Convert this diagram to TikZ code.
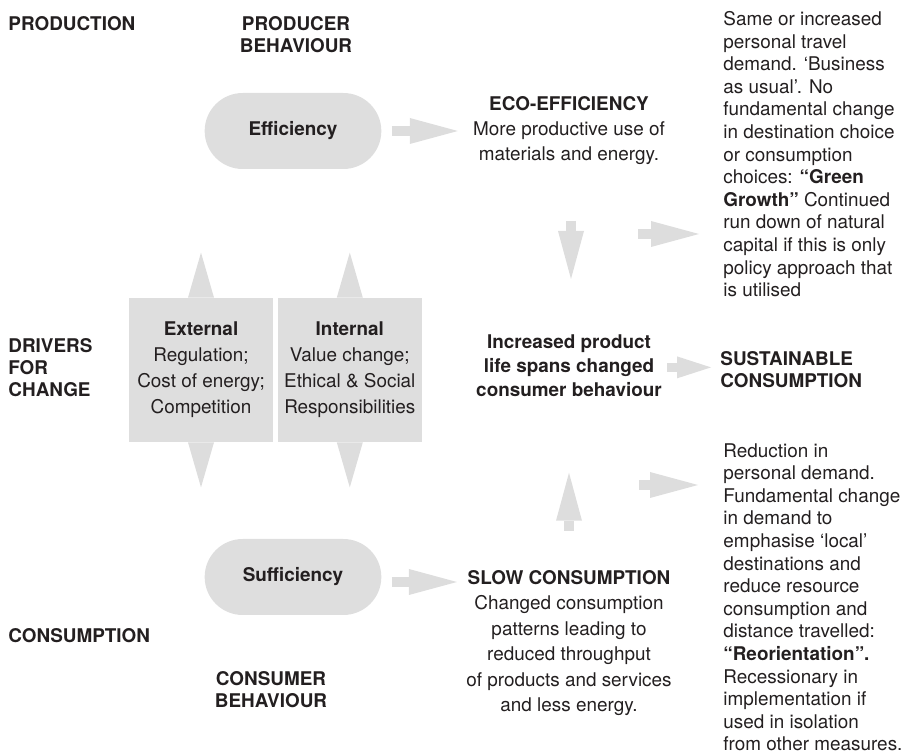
\documentclass[tikz,border=0pt]{standalone}
\usepackage{fontspec}
\setmainfont{TeX Gyre Heros}
\usetikzlibrary{arrows.meta,positioning,calc,shapes.misc}
\definecolor{Ink}{HTML}{231F20}
\definecolor{Shade}{HTML}{DEDEDE}
\definecolor{Pale}{HTML}{DDDDDD}
\newcommand{\txt}[1]{\fontsize{9.45pt}{#1}\selectfont}
\tikzset{
  tag/.style={text=Ink, inner sep=0pt, align=left, font=\txt{11pt}\bfseries},
  note/.style={text=Ink, inner sep=0pt, align=left, font=\txt{11.3pt}},
  stage/.style={text=Ink, inner sep=0pt, align=center, font=\txt{#1}},
  stage/.default=12.5pt,
  pill/.style={rounded rectangle, fill=Shade, text=Ink, font=\txt{12pt}\bfseries, minimum width=95pt, minimum height=38pt},
  driver/.style={fill=Shade, text=Ink, align=center, inner sep=0pt, minimum width=72pt, minimum height=72pt, font=\txt{13pt}},
  flow/.style={-{Triangle[length=24pt, width=13pt, line width=0pt]}, line width=5.25pt, draw=Pale},
  shortflow/.style={-{Triangle[length=17pt, width=11pt, line width=0pt]}, line width=4.5pt, draw=Pale},
  spike/.style={-{Triangle[length=22.5pt, width=13pt, line width=0pt]}, line width=5pt, draw=Pale}
}
\begin{document}
\begin{tikzpicture}[x=0.5pt, y=-0.5pt, node distance=2pt]
  \useasboundingbox (0,0) rectangle (901,753);
  % production side
  \node[tag, anchor=north west] (prod) at (8,16) {PRODUCTION};
  \node[tag, align=center, anchor=north] (prodbeh) at (296,16) {PRODUCER\\BEHAVIOUR};
  \node[pill] (eff) at (293,131) {Efficiency};
  \node[stage, anchor=north] (eco) at (569,96) {\textbf{ECO-EFFICIENCY}\\More productive use of\\materials and energy.};
  \node[note, anchor=north west] (green) at (723,11) {Same or increased\\personal travel\\demand. ‘Business\\as usual’. No\\fundamental change\\in destination choice\\or consumption\\choices: \textbf{“Green}\\\textbf{Growth”} Continued\\run down of natural\\capital if this is only\\policy approach that\\is utilised};
  % drivers
  \node[tag, anchor=north west] (drivers) at (8,338) {DRIVERS\\FOR\\CHANGE};
  \node[driver] (ext) at (201,370) {\textbf{External}\\Regulation;\\Cost of energy;\\Competition};
  \node[driver, right=of ext] (int) {\textbf{Internal}\\Value change;\\Ethical \& Social\\Responsibilities};
  \node[stage, font=\txt{12pt}\bfseries, anchor=north] (incr) at (569,334) {Increased product\\life spans changed\\consumer behaviour};
  \node[tag, anchor=north west] (sust) at (720,351) {SUSTAINABLE\\CONSUMPTION};
  \node[note, anchor=north west] (reor) at (723,443) {Reduction in\\personal demand.\\Fundamental change\\in demand to\\emphasise ‘local’\\destinations and\\reduce resource\\consumption and\\distance travelled:\\\textbf{“Reorientation”.}\\Recessionary in\\implementation if\\used in isolation\\from other measures.};
  % consumption side
  \node[pill] (suff) at (293,577) {Sufficiency};
  \node[stage=12.75pt, anchor=north] (slow) at (569,570) {\textbf{SLOW CONSUMPTION}\\Changed consumption\\patterns leading to\\reduced throughput\\of products and services\\and less energy.};
  \node[tag, anchor=north west] (cons) at (8,628) {CONSUMPTION};
  \node[tag, align=center, anchor=north] (consbeh) at (271,671) {CONSUMER\\BEHAVIOUR};
  \coordinate (gfrom) at (638,234);
  \coordinate (rfrom) at (639,485);
  \draw[flow] ([xshift=5pt]eff.east) -- ($(eff.east -| eco.west)+(-15,0)$);
  \draw[flow] ($(suff.east)+(10,5)$) -- ($(suff.east -| slow.west)+(-9,5)$);
  \draw[flow] ($(eco.south)+(2,56)$) -- ($(incr.north)+(2,-55)$);
  \draw[flow] ($(slow.north)+(0,-39)$) -- ($(incr.south)+(0,76)$);
  \draw[flow] (gfrom) -- ($(gfrom -| green.west)+(-24,0)$);
  \draw[shortflow] ($(incr.east)+(5,2)$) -- ($(incr.east -| sust.west)+(-9,2)$);
  \draw[flow] (rfrom) -- ($(rfrom -| reor.west)+(-25,0)$);
  \foreach \drv in {ext,int}{
    \draw[spike] (\drv.north) -- ($(\drv.north)+(0,-45)$);
    \draw[spike] (\drv.south) -- ($(\drv.south)+(0,45)$);
  }
\end{tikzpicture}
\end{document}
